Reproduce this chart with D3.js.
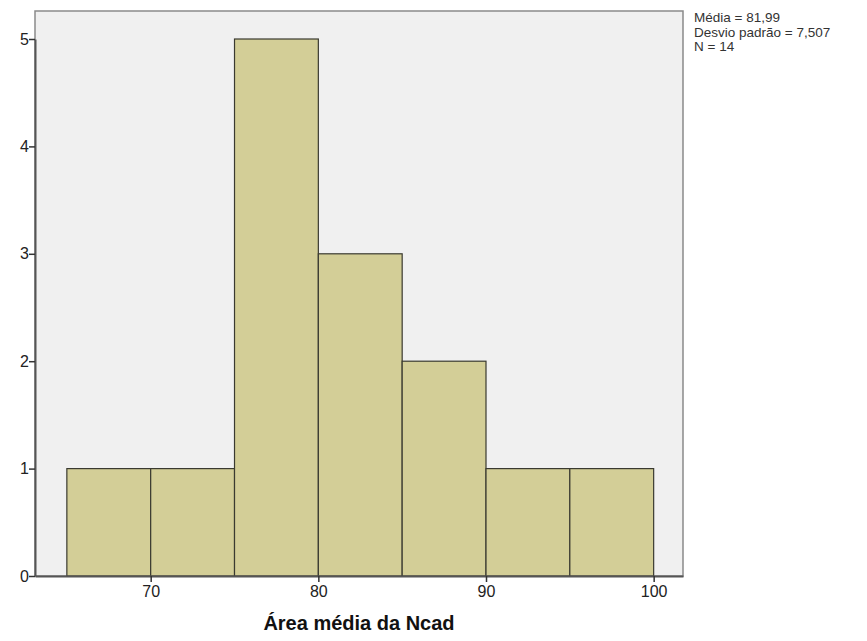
<!DOCTYPE html>
<html>
<head>
<meta charset="utf-8">
<script src="https://cdn.jsdelivr.net/npm/d3@7"></script>
<style>
  body { margin: 0; background: #fff; }
  text { font-family: Arial, "Liberation Sans", sans-serif; }
</style>
</head>
<body>
<div id="chart"></div>
<script>
// histogram bins (lower edge) and counts
const binStarts = [65, 70, 75, 80, 85, 90, 95];
const binWidth = 5;
const counts = [1, 1, 5, 3, 2, 1, 1];
const xTicks = [70, 80, 90, 100];
const yTicks = [0, 1, 2, 3, 4, 5];
const statsLines = ["Média = 81,99", "Desvio padrão = 7,507", "N = 14"];
const xTitle = "Área média da Ncad";

const width = 867, height = 641;
const plot = {left: 35, right: 683, top: 11, bottom: 576};

const svg = d3.select("#chart").append("svg")
    .attr("width", width)
    .attr("height", height);

// scales
const x = d3.scaleLinear()
    .domain([63.1, 101.75])
    .range([plot.left, plot.right]);
const y = d3.scaleLinear()
    .domain([0, 5])
    .range([plot.bottom, 39]);

// background
svg.append("rect")
    .attr("x", plot.left)
    .attr("y", plot.top)
    .attr("width", plot.right - plot.left)
    .attr("height", plot.bottom - plot.top)
    .attr("fill", "#f0f0f0")
    .attr("stroke", "#8a8a8a")
    .attr("stroke-width", 1.5);

// bars
svg.append("g").selectAll("rect")
    .data(binStarts)
    .join("rect")
    .attr("x", d => x(d))
    .attr("width", d => x(d + binWidth) - x(d))
    .attr("y", (d, i) => y(counts[i]))
    .attr("height", (d, i) => y(0) - y(counts[i]))
    .attr("fill", "#d3ce97")
    .attr("stroke", "#3a3a30")
    .attr("stroke-width", 1.2);

// axes
const xAxis = svg.append("g")
    .attr("transform", `translate(0, ${plot.bottom})`)
    .call(d3.axisBottom(x).tickValues(xTicks).tickSize(6).tickSizeOuter(0).tickFormat(d3.format("d")));
const yAxis = svg.append("g")
    .attr("transform", `translate(${plot.left}, 0)`)
    .call(d3.axisLeft(y).tickValues(yTicks).tickSize(6).tickSizeOuter(0).tickFormat(d3.format("d")));

[xAxis, yAxis].forEach(a => {
    a.select(".domain").attr("stroke", "#555").attr("stroke-width", 2);
    a.selectAll(".tick line").attr("stroke", "#333").attr("stroke-width", 1.5);
    a.selectAll(".tick text")
        .attr("font-size", 16)
        .attr("font-family", "Arial, 'Liberation Sans', sans-serif")
        .attr("fill", "#222");
});
xAxis.selectAll(".tick text").attr("y", 8).attr("dy", "0.8em");
yAxis.selectAll(".tick text").attr("x", -6);

// axis title
svg.append("text")
    .attr("x", (plot.left + plot.right) / 2)
    .attr("y", 630)
    .attr("text-anchor", "middle")
    .attr("font-size", 20)
    .attr("font-weight", "bold")
    .attr("fill", "#111")
    .text(xTitle);

// stats
svg.append("g").selectAll("text")
    .data(statsLines)
    .join("text")
    .attr("x", 694)
    .attr("y", (d, i) => 22 + i * 14.5)
    .attr("font-size", 13.5)
    .attr("fill", "#333")
    .text(d => d);
</script>
</body>
</html>
